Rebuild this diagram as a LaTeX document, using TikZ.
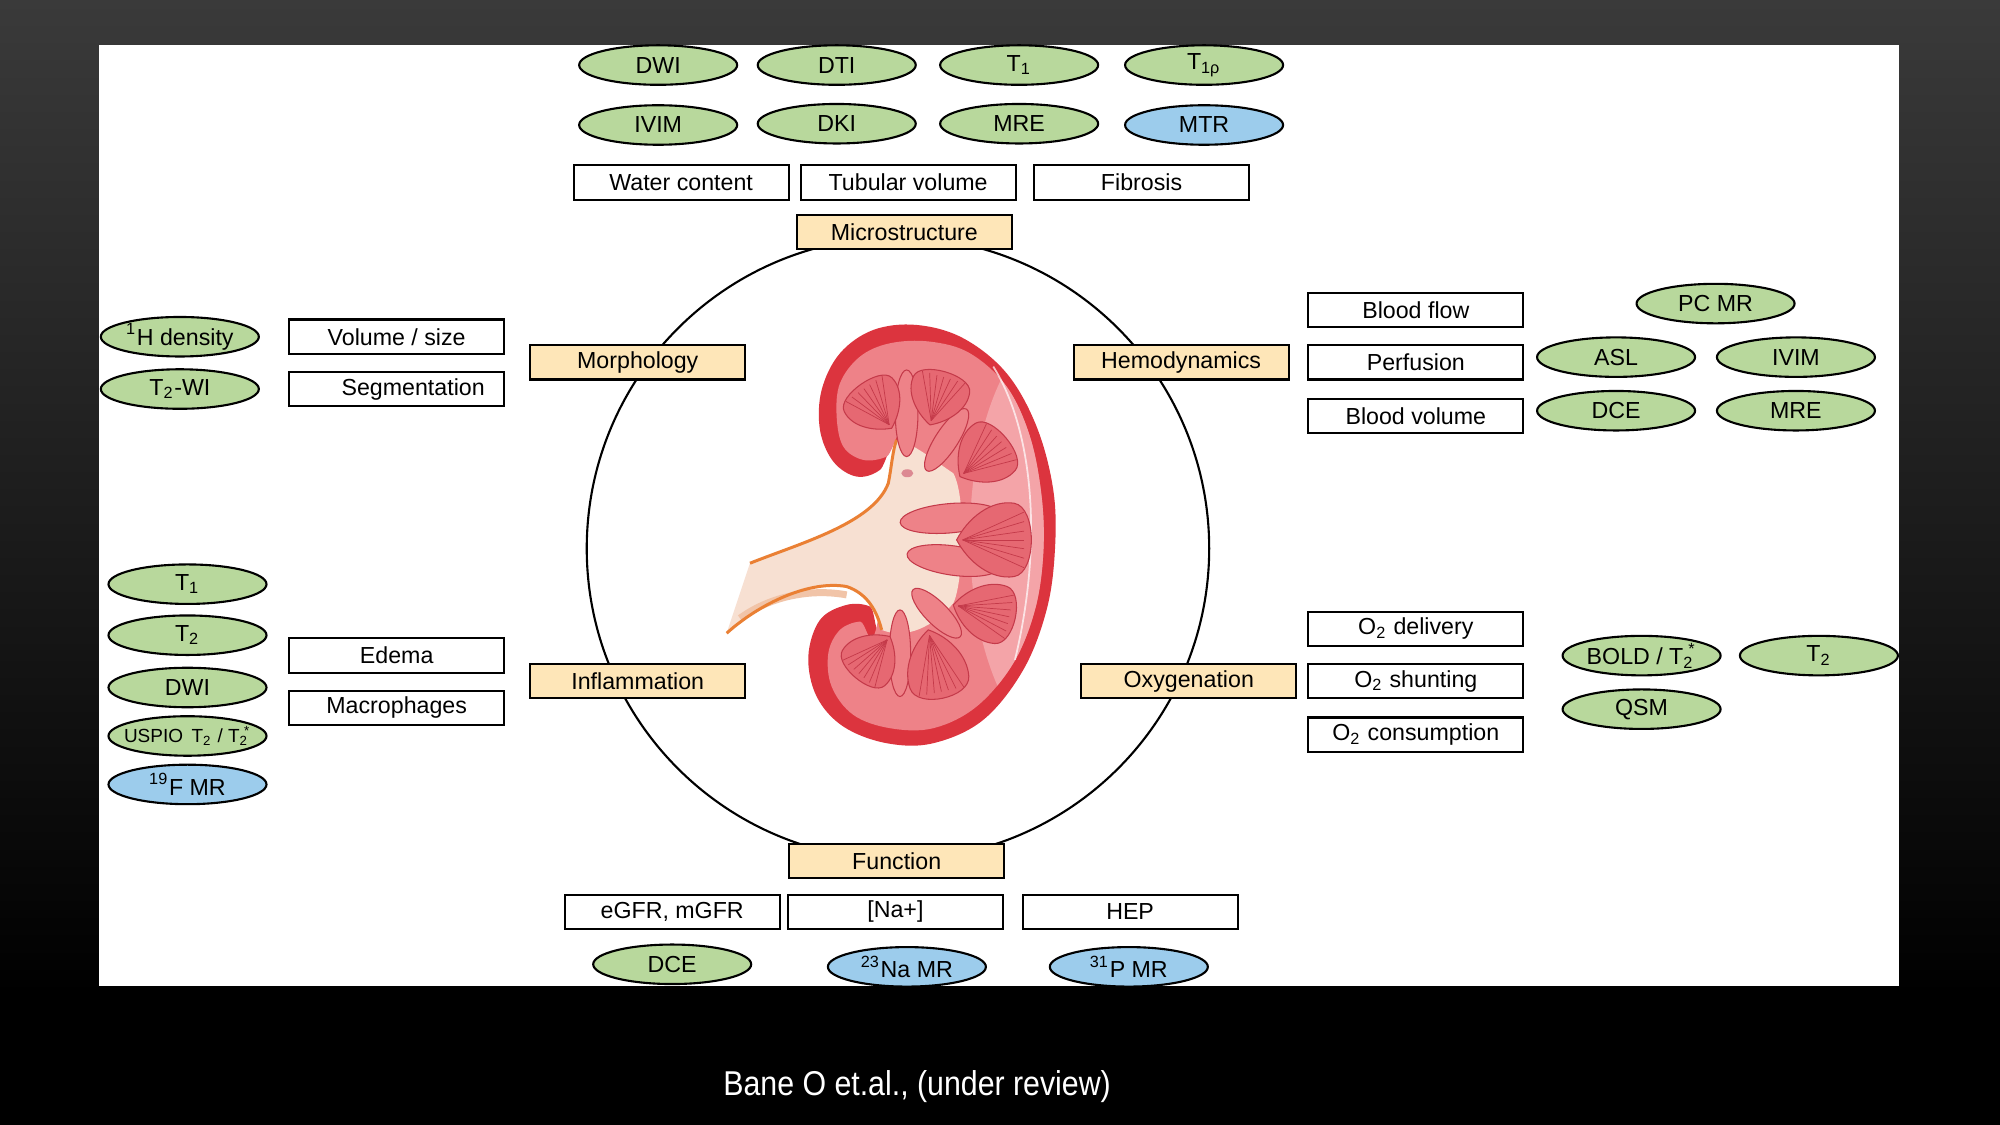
\documentclass[tikz,border=0pt]{standalone}
\usepackage{fontspec}
\setmainfont{Liberation Sans}
\usetikzlibrary{shapes.geometric}
\definecolor{bgtop}{RGB}{58,58,58}
\definecolor{techgreen}{RGB}{184,216,156}
\definecolor{techblue}{RGB}{156,204,236}
\definecolor{peach}{RGB}{254,230,184}
\definecolor{kidred}{RGB}{220,52,62}
\definecolor{kidpink}{RGB}{238,130,136}
\definecolor{kidlight}{RGB}{244,164,168}
\definecolor{pyrfill}{RGB}{230,104,114}
\definecolor{pyrline}{RGB}{196,58,74}
\definecolor{sinus}{RGB}{247,224,210}
\definecolor{ureterline}{RGB}{234,128,52}
\definecolor{ureterband}{RGB}{241,196,168}
\tikzset{feature/.style={draw, fill=white, line width=0.6pt, minimum width=21.5mm,
   minimum height=3.45mm, inner sep=0pt, font=\fontsize{6.6}{8}\selectfont},
 category/.style={feature, fill=peach},
 method/.style={ellipse, draw, fill=techgreen, line width=0.6pt, minimum width=15.8mm,
   minimum height=3.95mm, inner sep=0pt, font=\fontsize{6.6}{8}\selectfont},
 xmethod/.style={method, fill=techblue},
 column/.style={fill=kidpink, draw=pyrline, line width=0.3pt},
 pics/pyramid/.style 2 args={code={
   \fill[pyrfill, draw=pyrline, line width=0.3pt] (0,0) .. controls (0.15*#1,-0.3*#2) and (0.45*#1,-0.55*#2) .. (0.75*#1,-0.5*#2)
     .. controls (1.05*#1,-0.45*#2) and (1.05*#1,0.45*#2) .. (0.75*#1,0.5*#2)
     .. controls (0.45*#1,0.55*#2) and (0.15*#1,0.3*#2) .. cycle;
   \foreach \k in {-0.38,-0.25,-0.12,0,0.12,0.25,0.38}
     \draw[pyrline, line width=0.2pt] (0.08*#1,0) -- (0.88*#1,\k*#2);
 }},
}
\begin{document}
\begin{tikzpicture}[x=0.12755mm, y=-0.12755mm]
        \useasboundingbox (0,0) rectangle (1568,882);
        \fill[black] (0,0) rectangle (1568,882);
        \shade[top color=bgtop, bottom color=black] (0,0) rectangle (1568,780);
        \fill[white] (78,35) rectangle (1489,773);
        \node[text=white, font=\fontsize{9.8}{12}\selectfont] (cite) at (719,852) {\scalebox{0.88}[1]{Bane O et.al., (under review)}};
        \begin{scope}
        \clip (78,35) rectangle (1489,773);
        \draw[line width=0.6pt] (704,430) circle (244);
        \begin{scope}[shift={(548.8,243)}, x=0.03333mm, y=-0.03333mm]
            \fill[kidred] plot[smooth cycle, tension=0.6] coordinates {(585,415) (540,480) (470,500) (400,455) (360,360) (365,240) (420,130) (520,60) (650,45) (790,85) (920,190) (1010,350) (1060,540) (1065,720) (1040,900) (970,1080) (850,1230) (700,1300) (560,1300) (430,1250) (350,1160) (325,1040) (360,930) (440,885) (510,890) (540,930)};
            \fill[kidpink] plot[smooth cycle, tension=0.6] coordinates {(600,400) (560,440) (490,450) (430,410) (410,320) (420,220) (480,140) (570,100) (690,95) (810,130) (920,230) (990,380) (1025,560) (1030,730) (1005,900) (940,1060) (830,1190) (700,1255) (570,1255) (460,1215) (395,1130) (385,1030) (420,960) (480,935) (530,950)};
            \begin{scope}
                \clip plot[smooth cycle, tension=0.6] coordinates {(600,400) (560,440) (490,450) (430,410) (410,320) (420,220) (480,140) (570,100) (690,95) (810,130) (920,230) (990,380) (1025,560) (1030,730) (1005,900) (940,1060) (830,1190) (700,1255) (570,1255) (460,1215) (395,1130) (385,1030) (420,960) (480,935) (530,950)};
                \fill[kidlight] (1110,680) ellipse (300 and 650);
            \end{scope}
            \draw[white, opacity=0.7, line width=0.5pt] (880,170) .. controls (1000,360) and (1030,700) .. (945,1050);
            \fill[sinus] (590,390) .. controls (640,400) and (700,450) .. (760,490)
                .. controls (800,560) and (790,820) .. (760,880)
                .. controls (700,950) and (620,990) .. (545,960)
                .. controls (530,900) and (500,850) .. (440,830)
                .. controls (330,810) and (180,880) .. (80,970) -- (150,760)
                .. controls (300,700) and (520,640) .. (565,520)
                .. controls (575,470) and (578,420) .. (590,390) -- cycle;
            \draw[ureterband, line width=0.7mm] (120,925) .. controls (210,860) and (330,835) .. (440,855);
            \draw[ureterline, line width=0.3mm] (150,760) .. controls (300,700) and (520,640) .. (565,520) .. controls (575,470) and (578,420) .. (590,390);
            \draw[ureterline, line width=0.3mm] (80,970) .. controls (180,880) and (330,810) .. (440,830) .. controls (500,850) and (530,900) .. (545,960);
            \fill[pyrline!60] (622,490) ellipse (18 and 12);
            \draw[column] (620,310) ellipse (34 and 130);
            \draw[column, rotate around={57:(740,390)}] (740,390) ellipse (110 and 34);
            \draw[column, rotate around={5:(750,625)}] (750,625) ellipse (150 and 44);
            \draw[column, rotate around={-8:(760,752)}] (760,752) ellipse (140 and 44);
            \draw[column, rotate around={-45:(710,910)}] (710,910) ellipse (100 and 34);
            \draw[column] (600,1030) ellipse (32 and 130);
            \path (575,355) pic[rotate=125] {pyramid={165}{175}};
            \path (690,345) pic[rotate=74] {pyramid={170}{175}};
            \path (780,500) pic[rotate=40] {pyramid={185}{185}};
            \path (770,690) pic {pyramid={230}{220}};
            \path (760,885) pic[rotate=-12] {pyramid={195}{175}};
            \path (685,960) pic[rotate=-78] {pyramid={215}{180}};
            \path (570,980) pic[rotate=-130] {pyramid={165}{165}};
        \end{scope}
        \node[method] (mdwi) at (516,51) {DWI};
        \node[method] (mdti) at (656,51) {DTI};
        \node[method] (mt1) at (799,51) {T\textsubscript{1}};
        \node[method] (mt1rho) at (944,51) {T\textsubscript{1ρ}};
        \node[method] (mivim) at (516,98) {IVIM};
        \node[method] (mdki) at (656,97) {DKI};
        \node[method] (mmre) at (799,97) {MRE};
        \node[xmethod] (mmtr) at (944,98) {MTR};
        \node[feature] (water) at (534,143) {Water content};
        \node[feature] (tubular) at (712,143) {Tubular volume};
        \node[feature] (fibrosis) at (895,143) {Fibrosis};
        \node[category] (micro) at (709,182) {Microstructure};
        \node[method] (hdens) at (141,264) {\textsuperscript{1}H density};
        \node[method] (t2wi) at (141,305) {T\textsubscript{2}-WI};
        \node[feature] (volume) at (311,264) {Volume / size};
        \node[feature] (segment) at (311,305) {\hspace*{3.3mm}Segmentation};
        \node[category] (morph) at (500,284) {Morphology};
        \node[method] (it1) at (147,458) {T\textsubscript{1}};
        \node[method] (it2) at (147,498) {T\textsubscript{2}};
        \node[method] (idwi) at (147,539) {DWI};
        \node[method] (iuspio) at (147,577) {\makebox[0pt]{\fontsize{5.4}{6}\selectfont USPIO\, T\textsubscript{2} / T\textsubscript{2}\kern-.25em\textsuperscript{*}}};
        \node[xmethod] (ifmr) at (147,615) {\textsuperscript{19}F MR};
        \node[feature] (edema) at (311,514) {Edema};
        \node[feature] (macro) at (311,555) {Macrophages};
        \node[category] (inflam) at (500,534) {Inflammation};
        \node[category] (hemo) at (926,284) {Hemodynamics};
        \node[feature] (flow) at (1110,243) {Blood flow};
        \node[feature] (perf) at (1110,284) {Perfusion};
        \node[feature] (bvol) at (1110,326) {Blood volume};
        \node[method] (pcmr) at (1345,238) {PC MR};
        \node[method] (asl) at (1267,280) {ASL};
        \node[method] (hivim) at (1408,280) {IVIM};
        \node[method] (hdce) at (1267,322) {DCE};
        \node[method] (hmre) at (1408,322) {MRE};
        \node[category] (oxy) at (932,534) {Oxygenation};
        \node[feature] (deliv) at (1110,493) {O\textsubscript{2} delivery};
        \node[feature] (shunt) at (1110,534) {O\textsubscript{2} shunting};
        \node[feature] (consum) at (1110,576) {O\textsubscript{2} consumption};
        \node[method] (bold) at (1287,514) {BOLD / T\textsubscript{2}\kern-.25em\textsuperscript{*}};
        \node[method] (ot2) at (1426,514) {T\textsubscript{2}};
        \node[method] (qsm) at (1287,556) {QSM};
        \node[category] (func) at (703,675) {Function};
        \node[feature] (gfr) at (527,715) {eGFR, mGFR};
        \node[feature] (sodium) at (702,715) {[Na+]};
        \node[feature] (hep) at (886,715) {HEP};
        \node[method] (fdce) at (527,756) {DCE};
        \node[xmethod] (namr) at (711,758) {\textsuperscript{23}Na MR};
        \node[xmethod] (pmr) at (885,758) {\textsuperscript{31}P MR};
        \end{scope}
    \end{tikzpicture}
\end{document}
